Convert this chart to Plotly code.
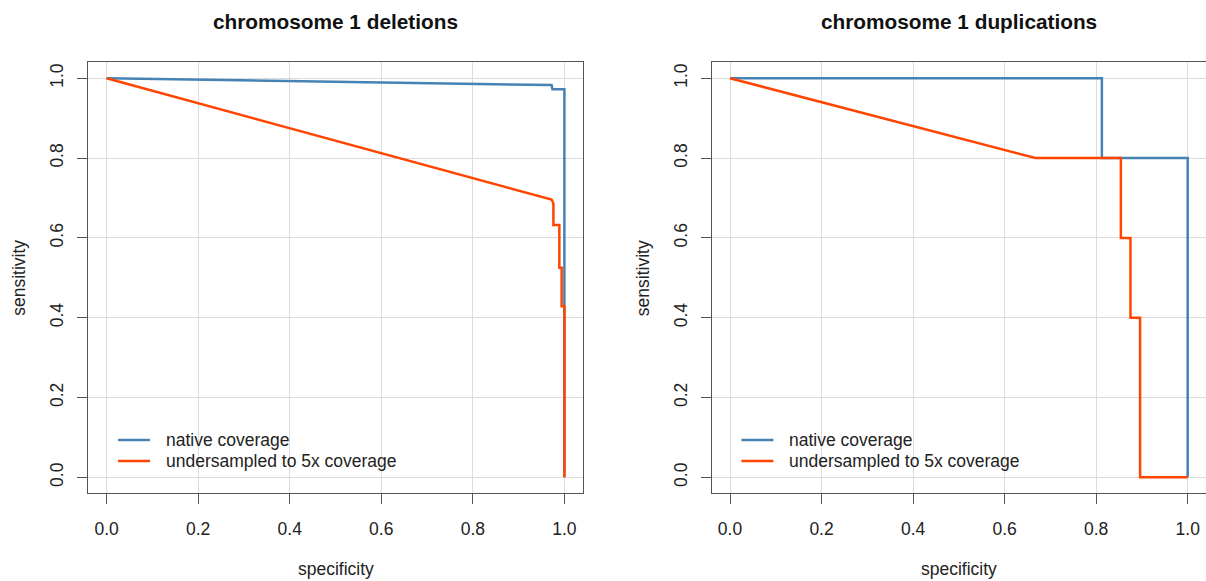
import plotly.graph_objects as go

# ROC curve coordinates (specificity, sensitivity)
del_native_spec = [0.0, 0.972, 0.974, 1.0, 1.0]
del_native_sens = [1.0, 0.983, 0.9725, 0.9725, 0.0]

del_5x_spec = [0.0, 0.972, 0.976, 0.976, 0.989, 0.989, 0.994, 0.994, 1.0, 1.0]
del_5x_sens = [1.0, 0.696, 0.686, 0.632, 0.632, 0.525, 0.525, 0.429, 0.429, 0.0]

dup_native_spec = [0.0, 0.8125, 0.8125, 1.0, 1.0]
dup_native_sens = [1.0, 1.0, 0.8, 0.8, 0.0]

dup_5x_spec = [0.0, 0.667, 0.854, 0.854, 0.875, 0.875, 0.896, 0.896, 1.0]
dup_5x_sens = [1.0, 0.8, 0.8, 0.6, 0.6, 0.4, 0.4, 0.0, 0.0]

titles = ["chromosome 1 deletions", "chromosome 1 duplications"]
series_names = ["native coverage", "undersampled to 5x coverage"]
tick_vals = [0.0, 0.2, 0.4, 0.6, 0.8, 1.0]
tick_text = ["0.0", "0.2", "0.4", "0.6", "0.8", "1.0"]

BLUE = "#4682B4"
ORANGE = "#FF4500"
COLORS = [BLUE, ORANGE]
FONT = "Liberation Sans, Arial, Helvetica, sans-serif"
W, H = 1206, 581
FS = 17.5


def px_x(p):
    return p / W


def px_y(p):
    return (H - p) / H


fig = go.Figure()

panels = [
    ("x", "y", del_native_spec, del_native_sens, del_5x_spec, del_5x_sens),
    ("x2", "y2", dup_native_spec, dup_native_sens, dup_5x_spec, dup_5x_sens),
]
for xa, ya, ns, nv, us, uv in panels:
    fig.add_trace(go.Scatter(x=ns, y=nv, mode="lines", name=series_names[0],
                             line=dict(color=BLUE, width=2.5), xaxis=xa, yaxis=ya,
                             showlegend=False))
    fig.add_trace(go.Scatter(x=us, y=uv, mode="lines", name=series_names[1],
                             line=dict(color=ORANGE, width=2.5), xaxis=xa, yaxis=ya,
                             showlegend=False))

box_left = [88.3, 711.7]
box_right = [582.7, 1206.1]
box_top, box_bottom = 62.3, 493.3
panel_shift = 623.4

axis_common = dict(
    range=[-0.04, 1.04], tickvals=tick_vals, ticktext=tick_text,
    showgrid=True, gridcolor="#dcdcdc", gridwidth=1,
    zeroline=False, showline=True, linecolor="#555555", linewidth=1.3, mirror=True,
    ticks="outside", ticklen=10, tickwidth=1.3, tickcolor="#555555",
    tickfont=dict(family=FONT, size=FS, color="#222222"),
)

fig.update_layout(
    xaxis=dict(domain=[px_x(box_left[0]), px_x(box_right[0])], anchor="y",
               ticklabelstandoff=10, **axis_common),
    yaxis=dict(domain=[px_y(box_bottom), px_y(box_top)], anchor="x",
               tickangle=-90, ticklabelstandoff=7, **axis_common),
    xaxis2=dict(domain=[px_x(box_left[1]), min(1.0, px_x(box_right[1]))], anchor="y2",
                ticklabelstandoff=10, **axis_common),
    yaxis2=dict(domain=[px_y(box_bottom), px_y(box_top)], anchor="x2",
                tickangle=-90, ticklabelstandoff=7, **axis_common),
)

annotations = []
shapes = []
legend_rows = [440, 461]
for i in range(2):
    cx = (box_left[i] + box_right[i]) / 2
    off = panel_shift * i
    annotations.append(dict(text="<b>" + titles[i] + "</b>", x=px_x(cx), y=px_y(21.5),
                            xref="paper", yref="paper", showarrow=False,
                            xanchor="center", yanchor="middle",
                            font=dict(family=FONT, size=20.8, color="#111111")))
    annotations.append(dict(text="specificity", x=px_x(cx), y=px_y(569),
                            xref="paper", yref="paper", showarrow=False,
                            xanchor="center", yanchor="middle",
                            font=dict(family=FONT, size=FS, color="#222222")))
    annotations.append(dict(text="sensitivity", x=px_x(19 + off),
                            y=px_y((box_top + box_bottom) / 2),
                            xref="paper", yref="paper", showarrow=False, textangle=-90,
                            xanchor="center", yanchor="middle",
                            font=dict(family=FONT, size=FS, color="#222222")))
    # legend: line sample plus label for each series
    for name, color, row in zip(series_names, COLORS, legend_rows):
        shapes.append(dict(type="line", xref="paper", yref="paper",
                           x0=px_x(118 + off), x1=px_x(150 + off),
                           y0=px_y(row), y1=px_y(row),
                           line=dict(color=color, width=2.5)))
        annotations.append(dict(text=name, x=px_x(164 + off), y=px_y(row),
                                xref="paper", yref="paper", showarrow=False,
                                xanchor="left", yanchor="middle",
                                font=dict(family=FONT, size=FS, color="#222222")))

fig.update_layout(
    width=W, height=H, margin=dict(l=0, r=0, t=0, b=0),
    paper_bgcolor="white", plot_bgcolor="white",
    annotations=annotations, shapes=shapes, showlegend=False,
)

fig.write_html("out.html")
